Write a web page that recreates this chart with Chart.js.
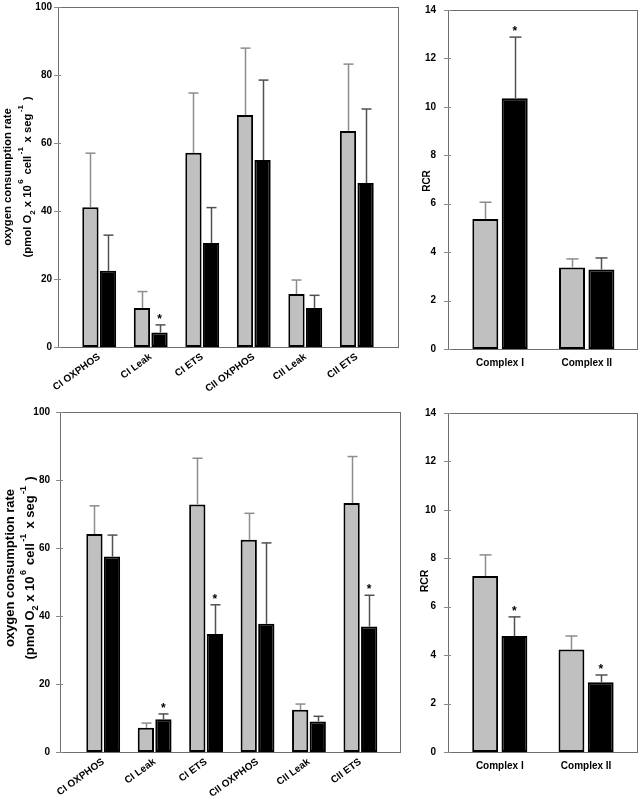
<!DOCTYPE html>
<html>
<head>
<meta charset="utf-8">
<script src="https://cdn.jsdelivr.net/npm/chart.js@4.4.1/dist/chart.umd.min.js"></script>
<style>
  body { margin: 0; background: #fff; width: 641px; height: 807px; position: relative; overflow: hidden; }
  .panel { position: absolute; }
</style>
</head>
<body>
<div class="panel" style="left:0;top:0"><canvas id="topRate" width="420" height="400"></canvas></div>
<div class="panel" style="left:420px;top:0"><canvas id="topRcr" width="221" height="400"></canvas></div>
<div class="panel" style="left:0;top:400px"><canvas id="bottomRate" width="420" height="407"></canvas></div>
<div class="panel" style="left:420px;top:400px"><canvas id="bottomRcr" width="221" height="407"></canvas></div>
<script>
const rateLabels = ["CI OXPHOS", "CI Leak", "CI ETS", "CII OXPHOS", "CII Leak", "CII ETS"];
const rcrLabels = ["Complex I", "Complex II"];

// upper row
const topRateGray = [41.1, 11.5, 57.1, 68.2, 15.6, 63.5];
const topRateGrayErr = [15.9, 4.8, 17.6, 19.7, 4.1, 19.7];
const topRateBlack = [22.4, 4.3, 30.6, 55.0, 11.5, 48.2];
const topRateBlackErr = [10.5, 2.2, 10.4, 23.5, 3.7, 21.8];
const topRateStars = [1];

const topRcrGray = [5.37, 3.37];
const topRcrGrayErr = [0.69, 0.35];
const topRcrBlack = [10.36, 3.28];
const topRcrBlackErr = [2.52, 0.48];
const topRcrStars = [0];

// lower row
const bottomRateGray = [64.1, 7.1, 72.8, 62.4, 12.4, 73.2];
const bottomRateGrayErr = [8.3, 1.4, 13.6, 7.8, 1.7, 13.7];
const bottomRateBlack = [57.5, 9.6, 34.7, 37.7, 9.0, 36.9];
const bottomRateBlackErr = [6.3, 1.6, 8.6, 23.8, 1.5, 9.2];
const bottomRateStars = [1, 2, 5];

const bottomRcrGray = [7.27, 4.23];
const bottomRcrGrayErr = [0.87, 0.56];
const bottomRcrBlack = [4.79, 2.88];
const bottomRcrBlackErr = [0.79, 0.30];
const bottomRcrStars = [0, 1];

const rateAxisMax = 100, rateAxisStep = 20;
const rcrAxisMax = 14, rcrAxisStep = 2;

const FONT = "'Liberation Sans', Arial, Helvetica, sans-serif";
Chart.defaults.font.family = FONT;
Chart.defaults.font.weight = "bold";
Chart.defaults.color = "#000";

function line(ctx, x1, y1, x2, y2) {
  ctx.beginPath();
  ctx.moveTo(x1, y1);
  ctx.lineTo(x2, y2);
  ctx.stroke();
}

// rotated y title, parts may be raised (sup) or lowered (sub)
function drawTitleLine(ctx, x, yc, parts, size) {
  ctx.save();
  ctx.translate(x, yc);
  ctx.rotate(-Math.PI / 2);
  ctx.textBaseline = "alphabetic";
  ctx.fillStyle = "#000";
  const small = Math.round(size * 0.7);
  let total = 0;
  parts.forEach(p => {
    ctx.font = "bold " + (p.dy ? small : size) + "px " + FONT;
    total += ctx.measureText(p.t).width + (p.gap || 0);
  });
  let pos = -total / 2;
  parts.forEach(p => {
    ctx.font = "bold " + (p.dy ? small : size) + "px " + FONT;
    pos += (p.gap || 0) / 2;
    ctx.fillText(p.t, pos, p.dy || 0);
    pos += ctx.measureText(p.t).width + (p.gap || 0) / 2;
  });
  ctx.restore();
}

const panelDecor = {
  id: "panelDecor",
  beforeDatasetsDraw(chart) {
    const ctx = chart.ctx, a = chart.chartArea, y = chart.scales.y;
    ctx.save();
    ctx.strokeStyle = "#6e6e6e";
    ctx.lineWidth = 1;
    ctx.strokeRect(Math.round(a.left) + 0.5, Math.round(a.top) + 0.5,
      Math.round(a.right - a.left), Math.round(a.bottom - a.top));
    ctx.strokeStyle = "#8a8a8a";
    y.ticks.forEach(t => {
      const py = Math.round(y.getPixelForValue(t.value)) + 0.5;
      line(ctx, a.left - 4, py, a.left + 3, py);
    });
    ctx.restore();
  },
  afterDatasetsDraw(chart, args, opts) {
    const ctx = chart.ctx, y = chart.scales.y;
    ctx.save();
    chart.data.datasets.forEach((ds, di) => {
      const meta = chart.getDatasetMeta(di);
      meta.data.forEach((bar, i) => {
        const top = y.getPixelForValue(ds.data[i].y + ds.errors[i]);
        const bx = Math.round(bar.x) + 0.5;
        ctx.strokeStyle = ds.errorColor;
        ctx.lineWidth = 1.5;
        line(ctx, bx, bar.y, bx, top);
        line(ctx, bx - opts.cap / 2, top, bx + opts.cap / 2, top);
        if (ds.stars.includes(i)) {
          ctx.fillStyle = "#000";
          ctx.font = "bold 12px " + FONT;
          ctx.textAlign = "center";
          ctx.textBaseline = "alphabetic";
          ctx.fillText("*", bar.x, top - 2);
        }
      });
    });
    ctx.restore();
  },
  afterDraw(chart, args, opts) {
    opts.title.forEach(tl => drawTitleLine(chart.ctx, tl.x, opts.titleCenter, tl.parts, tl.size));
  }
};

function barPanel(id, o) {
  const toPoints = arr => arr.map((v, i) => ({ x: i, y: v }));
  return new Chart(document.getElementById(id), {
    type: "bar",
    data: {
      datasets: [
        { data: toPoints(o.gray), backgroundColor: "#c0c0c0", errors: o.grayErr, errorColor: "#8c8c8c", stars: [] },
        { data: toPoints(o.black), backgroundColor: "#000000", errors: o.blackErr, errorColor: "#505050", stars: o.stars }
      ]
    },
    options: {
      responsive: false,
      animation: false,
      events: [],
      layout: { padding: o.padding },
      datasets: {
        bar: {
          borderColor: "#000",
          borderWidth: 2,
          borderSkipped: false,
          categoryPercentage: o.catPct,
          barPercentage: o.barPct
        }
      },
      plugins: {
        legend: { display: false },
        tooltip: { enabled: false },
        panelDecor: { cap: o.cap, title: o.title, titleCenter: o.titleCenter }
      },
      scales: {
        x: {
          type: "linear",
          offset: false,
          min: o.xMin,
          max: o.xMax,
          grid: { display: false, drawTicks: false },
          border: { display: false },
          afterBuildTicks: s => { s.ticks = o.labels.map((_, i) => ({ value: i })); },
          afterFit: s => { s.height = o.xHeight; s.paddingLeft = 0; s.paddingRight = 0; },
          ticks: {
            autoSkip: false,
            minRotation: o.rot,
            maxRotation: o.rot,
            padding: o.xPad,
            font: { size: o.xFont, weight: "bold" },
            callback: v => o.labels[v]
          }
        },
        y: {
          min: 0,
          max: o.yMax,
          grid: { display: false, drawTicks: false },
          border: { display: false },
          afterFit: s => { s.width = o.yWidth; s.paddingTop = 0; s.paddingBottom = 0; },
          ticks: { stepSize: o.yStep, padding: o.yPad, font: { size: 10, weight: "bold" } }
        }
      }
    },
    plugins: [panelDecor]
  });
}

function rateTitle(x1, x2, size) {
  return [
    { x: x1, size, parts: [{ t: "oxygen consumption rate" }] },
    { x: x2, size, parts: [
      { t: "(pmol O" }, { t: "2", dy: 4 }, { t: " x 10" }, { t: "6", dy: -8, gap: 3 },
      { t: " cell" }, { t: "-1", dy: -8, gap: 3 }, { t: " x seg" }, { t: "-1", dy: -8, gap: 3 }, { t: " )" }
    ] }
  ];
}

barPanel("topRate", {
  labels: rateLabels, gray: topRateGray, grayErr: topRateGrayErr,
  black: topRateBlack, blackErr: topRateBlackErr, stars: topRateStars,
  xMin: -0.8, xMax: 5.8, yMax: rateAxisMax, yStep: rateAxisStep,
  padding: { top: 7, right: 22, left: 0, bottom: 0 }, yWidth: 58, xHeight: 53,
  catPct: 0.683, barPct: 0.926, rot: 36, xPad: 4, xFont: 10, yPad: 6, cap: 10,
  title: rateTitle(10.5, 31, 11.3), titleCenter: 177
});

barPanel("topRcr", {
  labels: rcrLabels, gray: topRcrGray, grayErr: topRcrGrayErr,
  black: topRcrBlack, blackErr: topRcrBlackErr, stars: topRcrStars,
  xMin: -0.6, xMax: 1.58, yMax: rcrAxisMax, yStep: rcrAxisStep,
  padding: { top: 10, right: 4, left: 0, bottom: 0 }, yWidth: 28, xHeight: 51,
  catPct: 0.678, barPct: 0.884, rot: 0, xPad: 8, xFont: 10, yPad: 12, cap: 12,
  title: [{ x: 10, size: 10, parts: [{ t: "RCR" }] }], titleCenter: 181
});

barPanel("bottomRate", {
  labels: rateLabels, gray: bottomRateGray, grayErr: bottomRateGrayErr,
  black: bottomRateBlack, blackErr: bottomRateBlackErr, stars: bottomRateStars,
  xMin: -0.84, xMax: 5.77, yMax: rateAxisMax, yStep: rateAxisStep,
  padding: { top: 12, right: 20, left: 0, bottom: 0 }, yWidth: 60, xHeight: 55,
  catPct: 0.683, barPct: 0.926, rot: 36, xPad: 4, xFont: 10, yPad: 10, cap: 10,
  title: rateTitle(13.5, 33.5, 13), titleCenter: 168
});

barPanel("bottomRcr", {
  labels: rcrLabels, gray: bottomRcrGray, grayErr: bottomRcrGrayErr,
  black: bottomRcrBlack, blackErr: bottomRcrBlackErr, stars: bottomRcrStars,
  xMin: -0.6, xMax: 1.59, yMax: rcrAxisMax, yStep: rcrAxisStep,
  padding: { top: 13, right: 4, left: 0, bottom: 0 }, yWidth: 28, xHeight: 55,
  catPct: 0.678, barPct: 0.884, rot: 0, xPad: 8, xFont: 10, yPad: 12, cap: 12,
  title: [{ x: 8.3, size: 10.5, parts: [{ t: "RCR" }] }], titleCenter: 181
});
</script>
</body>
</html>
